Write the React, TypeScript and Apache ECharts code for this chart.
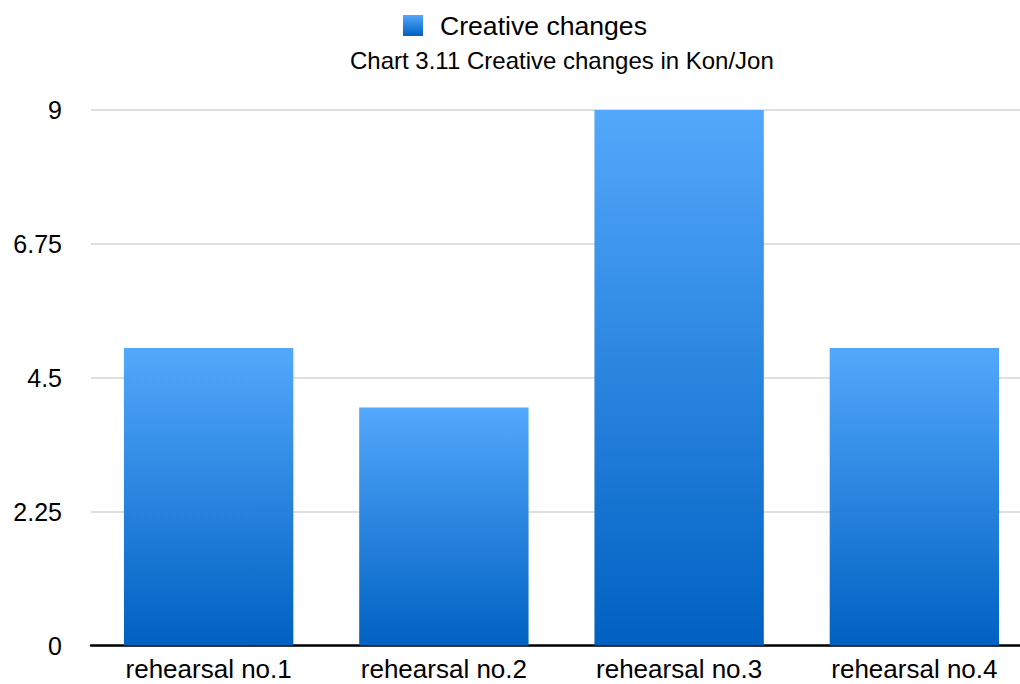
import React, { useEffect, useRef } from "react";
import * as echarts from "echarts";

const categories = ["rehearsal no.1", "rehearsal no.2", "rehearsal no.3", "rehearsal no.4"];
const creativeChanges = [5, 4, 9, 5];
const seriesName = "Creative changes";
const chartTitle = "Chart 3.11 Creative changes in Kon/Jon";

const FONT = "'Liberation Sans', Arial, Helvetica, sans-serif";

export default function App() {
  const ref = useRef<HTMLDivElement>(null);
  useEffect(() => {
    if (!ref.current) return;
    const chart = echarts.init(ref.current, null, { renderer: "svg" });
    const grad = new echarts.graphic.LinearGradient(0, 0, 0, 1, [
      { offset: 0, color: "#53a8fb" },
      { offset: 1, color: "#0061c2" },
    ]);
    chart.setOption({
      animation: false,
      backgroundColor: "#ffffff",
      textStyle: { fontFamily: FONT },
      title: {
        text: chartTitle,
        left: 350,
        top: 48,
        padding: 0,
        textStyle: { fontFamily: FONT, fontSize: 24, fontWeight: "normal", color: "#000" },
      },
      legend: {
        left: 403,
        top: 12,
        padding: 0,
        itemWidth: 20,
        itemHeight: 21,
        icon: "rect",
        data: [seriesName],
        textStyle: { fontFamily: FONT, fontSize: 26.6, color: "#000", padding: [0, 0, 0, 12] },
      },
      grid: { left: 91, right: 0, top: 110, bottom: 38.5, containLabel: false },
      xAxis: {
        type: "category",
        data: categories,
        axisLine: { show: true, lineStyle: { color: "#000", width: 2.5 } },
        axisTick: { show: false },
        axisLabel: { fontFamily: FONT, fontSize: 26, color: "#000", margin: 10 },
      },
      yAxis: {
        type: "value",
        min: 0,
        max: 9,
        interval: 2.25,
        axisLine: { show: false },
        axisTick: { show: false },
        axisLabel: { fontFamily: FONT, fontSize: 25, color: "#000", margin: 29 },
        splitLine: { show: true, lineStyle: { color: "#d4d4d4", width: 1.5 } },
      },
      series: [
        {
          name: seriesName,
          type: "bar",
          data: creativeChanges,
          barCategoryGap: "28%",
          itemStyle: { color: grad },
        },
      ],
    });
    return () => chart.dispose();
  }, []);
  return (
    <div
      ref={ref}
      style={{ position: "fixed", left: 0, top: 0, width: 1032, height: 684 }}
    />
  );
}
